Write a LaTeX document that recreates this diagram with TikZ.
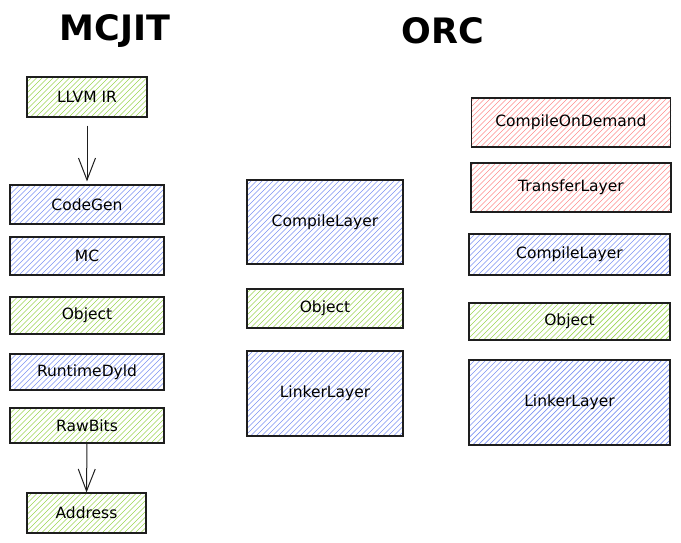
\documentclass[tikz,border=0pt]{standalone}
\usepackage{fontspec}
\setmainfont{DejaVu Sans}
\usetikzlibrary{arrows.meta,backgrounds}
\definecolor{inkline}{HTML}{1E1E1E}
\definecolor{hatchblue}{HTML}{7C92F2}
\definecolor{hatchgreen}{HTML}{9BD552}
\definecolor{hatchred}{HTML}{FF8C8C}
\tikzset{
  layer/.style={draw=inkline, line width=1.2pt, inner sep=0pt,
    font=\fontsize{15.5}{18}\selectfont},
  hatchline/.style={draw=#1, line width=0.7pt},
  heading/.style={font=\fontsize{35}{40}\selectfont\bfseries},
  flow/.style={draw=inkline, line width=1pt, -{Straight Barb[length=22pt,width=17pt,line width=1pt]}}
}
\begin{document}
\begin{tikzpicture}[yscale=-1, x=1pt, y=1pt]
  \useasboundingbox (0,0) rectangle (681,543);
  \node[heading] (mcjit) at (115,31) {MCJIT};
  \node[heading] (orc) at (443,31) {ORC};
  % MCJIT
  \node[layer, minimum width=120pt, minimum height=40pt] (ir) at (87,97) {LLVM IR};
  \node[layer, minimum width=154pt, minimum height=39pt] (codegen) at (87,204.5) {CodeGen};
  \node[layer, minimum width=154pt, minimum height=38pt] (mc) at (87,256) {MC};
  \node[layer, minimum width=154pt, minimum height=37pt] (obj1) at (87,315.5) {Object};
  \node[layer, minimum width=154pt, minimum height=36pt] (dyld) at (87,372) {RuntimeDyld};
  \node[layer, minimum width=154pt, minimum height=35pt] (raw) at (87,425.5) {RawBits};
  \node[layer, minimum width=119pt, minimum height=40pt] (addr) at (86.5,513) {Address};
  \draw[flow] ([yshift=8pt]ir.south) -- ([yshift=-3pt]codegen.north);
  \draw[flow] (raw.south) -- (addr.north);
  % ORC, middle
  \node[layer, minimum width=156pt, minimum height=84pt] (cl1) at (325,222) {CompileLayer};
  \node[layer, minimum width=156pt, minimum height=39pt] (obj2) at (325,308.5) {Object};
  \node[layer, minimum width=156pt, minimum height=85pt] (ll1) at (325,393.5) {LinkerLayer};
  % ORC, right
  \node[layer, minimum width=199pt, minimum height=49pt] (cod) at (571,122.5) {CompileOnDemand};
  \node[layer, minimum width=200pt, minimum height=49pt] (tl) at (571,187.5) {TransferLayer};
  \node[layer, minimum width=201pt, minimum height=41pt] (cl2) at (569.5,254.5) {CompileLayer};
  \node[layer, minimum width=201pt, minimum height=37pt] (obj3) at (569.5,321.5) {Object};
  \node[layer, minimum width=201pt, minimum height=85pt] (ll2) at (569.5,402.5) {LinkerLayer};
  % hachures
  \begin{scope}[on background layer]
  \foreach \n/\c in {ir/hatchgreen, codegen/hatchblue, mc/hatchblue, obj1/hatchgreen,
      dyld/hatchblue, raw/hatchgreen, addr/hatchgreen, cl1/hatchblue, obj2/hatchgreen,
      ll1/hatchblue, cod/hatchred, tl/hatchred, cl2/hatchblue, obj3/hatchgreen, ll2/hatchblue}{
    \begin{scope}
      \clip (\n.south west) rectangle (\n.north east);
      \foreach \s in {-90,-84.5,...,206}
        \draw[hatchline=\c] ([xshift=\s pt]\n.south west) -- ++(110,-110);
    \end{scope}
  }
  \end{scope}
\end{tikzpicture}
\end{document}
